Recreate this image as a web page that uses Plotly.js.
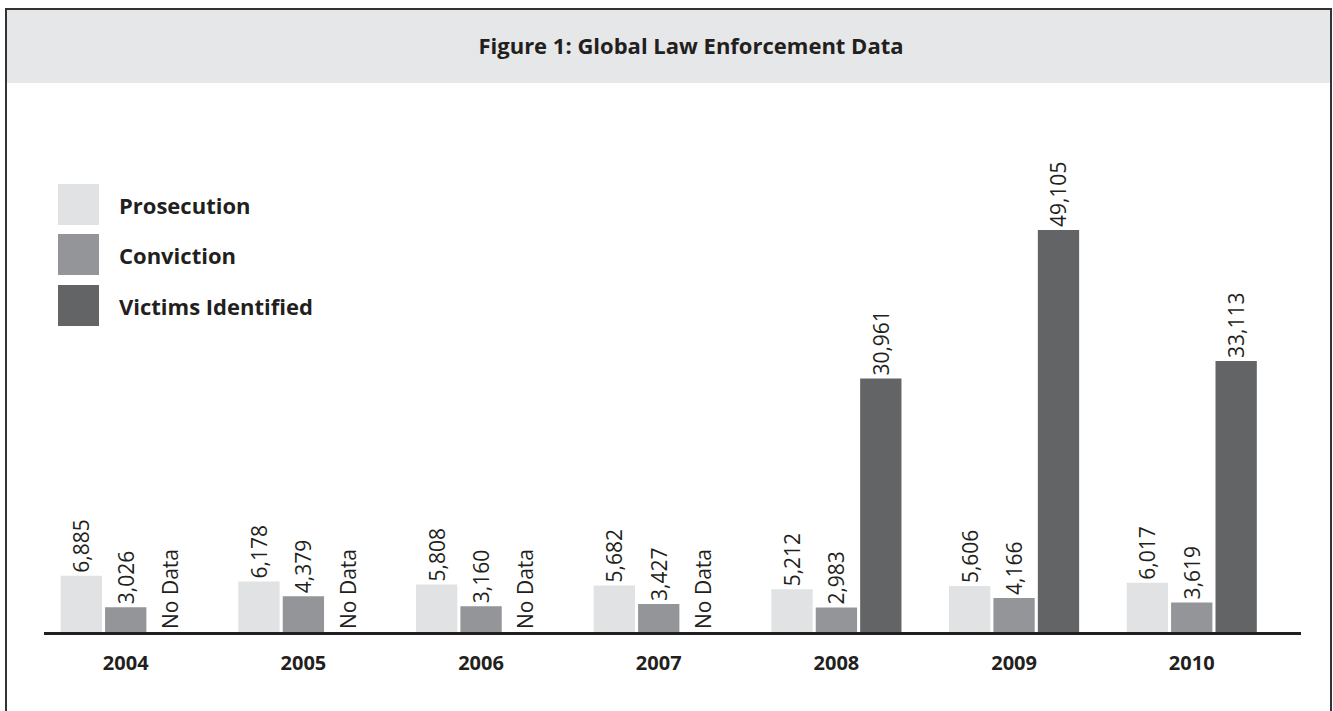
<!DOCTYPE html>
<html>
<head>
<meta charset="utf-8">
<script src="https://cdn.plot.ly/plotly-3.0.1.min.js"></script>
<style>html,body{margin:0;padding:0;background:#fff;}#chart{width:1333px;height:711px;}</style>
</head>
<body>
<div id="chart"></div>
<script>
const years = ['2004','2005','2006','2007','2008','2009','2010'];
const prosecution = [6885, 6178, 5808, 5682, 5212, 5606, 6017];
const conviction = [3026, 4379, 3160, 3427, 2983, 4166, 3619];
const victims = [null, null, null, null, 30961, 49105, 33113];
const seriesNames = ['Prosecution', 'Conviction', 'Victims Identified'];
const seriesColors = ['#e1e2e3', '#939598', '#636466'];
const noDataLabel = 'No Data';

const W = 1333, H = 711;
const M = {l: 44, r: 32, t: 100, b: 79};
const PW = W - M.l - M.r, PH = H - M.t - M.b;
const px = x => (x - M.l) / PW;
const py = y => (H - M.b - y) / PH;

const fmt = v => v.toLocaleString('en-US');
const textFont = {family: 'Open Sans, sans-serif', size: 21, color: '#231f20'};

function barTrace(name, vals, color) {
  return {
    type: 'bar', name: name, x: years,
    y: vals.map(v => v === null ? 0 : v),
    text: vals.map(v => v === null ? noDataLabel : fmt(v)),
    textposition: 'outside', textangle: -90,
    textfont: textFont, cliponaxis: false, constraintext: 'none',
    marker: {color: color, line: {width: 0}},
    hoverinfo: 'x+y+name', showlegend: false
  };
}

const data = [
  barTrace(seriesNames[0], prosecution, seriesColors[0]),
  barTrace(seriesNames[1], conviction, seriesColors[1]),
  barTrace(seriesNames[2], victims, seriesColors[2])
];

const shapes = [
  {type: 'rect', xref: 'paper', yref: 'paper', x0: px(7), x1: px(1330), y0: py(10), y1: py(83),
   fillcolor: '#e6e7e8', line: {width: 0}, layer: 'below'},
  {type: 'rect', xref: 'paper', yref: 'paper', x0: px(6), x1: px(1331), y0: py(9), y1: py(740),
   fillcolor: 'rgba(0,0,0,0)', line: {width: 2, color: '#333333'}, layer: 'above'}
];
const annotations = [];
const legTops = [184, 234, 285];
seriesNames.forEach((n, i) => {
  shapes.push({type: 'rect', xref: 'paper', yref: 'paper', x0: px(58), x1: px(99),
    y0: py(legTops[i]), y1: py(legTops[i] + 41), fillcolor: seriesColors[i], line: {width: 0}});
  annotations.push({xref: 'paper', yref: 'paper', x: px(117), y: py(legTops[i] + 20.5),
    xanchor: 'left', yanchor: 'middle', showarrow: false, text: '<b>' + n + '</b>',
    font: {family: 'Open Sans, sans-serif', size: 22, color: '#231f20'}});
});

const layout = {
  width: W, height: H, margin: M,
  paper_bgcolor: '#ffffff', plot_bgcolor: 'rgba(0,0,0,0)',
  barmode: 'group', bargap: 0.25, bargroupgap: 0.07,
  showlegend: false,
  title: {text: '<b>Figure 1: Global Law Enforcement Data</b>', xref: 'container', yref: 'container',
    x: 691 / W, y: 1 - 46 / H, xanchor: 'center', yanchor: 'middle',
    font: {family: 'Open Sans, sans-serif', size: 22, color: '#231f20'}},
  xaxis: {type: 'category', range: [-0.46, 6.615], showline: true, linewidth: 3, linecolor: '#231f20',
    ticks: '', showgrid: false, zeroline: false, ticklabelstandoff: 11,
    tickfont: {family: 'Open Sans, sans-serif', size: 20, color: '#231f20', weight: 'bold'}},
  yaxis: {range: [0, 65000], visible: false, showgrid: false, zeroline: false},
  shapes: shapes, annotations: annotations
};

Plotly.newPlot('chart', data, layout, {displayModeBar: false, staticPlot: true});
</script>
</body>
</html>
